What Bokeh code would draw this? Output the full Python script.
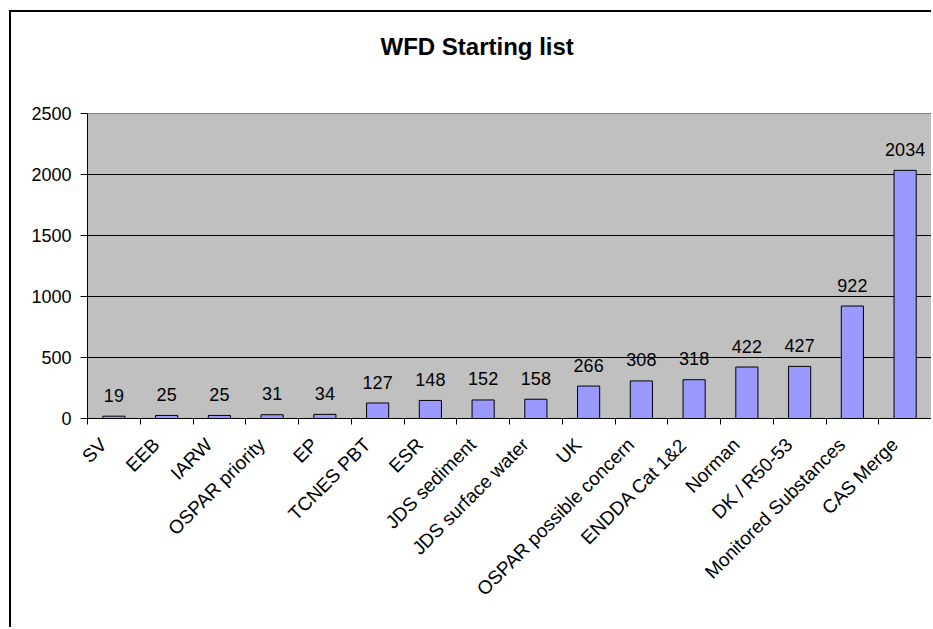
from math import pi

from bokeh.core.properties import value
from bokeh.embed import file_html
from bokeh.models import (ColumnDataSource, CustomJSTickFormatter, FixedTicker,
                          Range1d, Title)
from bokeh.plotting import figure
from bokeh.resources import INLINE

# Number of substances in each source list
categories = ["SV", "EEB", "IARW", "OSPAR priority", "EP", "TCNES PBT", "ESR",
              "JDS sediment", "JDS surface water", "UK", "OSPAR possible concern",
              "ENDDA Cat 1&2", "Norman", "DK / R50-53", "Monitored Substances",
              "CAS Merge"]
counts = [19, 25, 25, 31, 34, 127, 148, 152, 158, 266, 308, 318, 422, 427, 922, 2034]
y_ticks = [0, 500, 1000, 1500, 2000, 2500]

FONT = "Liberation Sans"
n = len(categories)
centers = [i + 0.5 for i in range(n)]
# rotated labels end slightly left of the bar centre
label_pos = [c - 0.2 for c in centers]

src = ColumnDataSource(dict(x=centers, top=counts,
                            label=[str(c) for c in counts]))

p = figure(width=922, height=617, output_backend="svg", toolbar_location=None,
           x_range=Range1d(0, n), y_range=Range1d(0, y_ticks[-1]),
           min_border_left=76, min_border_right=2, min_border_top=101,
           min_border_bottom=211,
           background_fill_color="#C0C0C0", border_fill_color="white",
           outline_line_color="#808080", outline_line_width=1)

# chart border, open to the right and bottom
p.margin = (10, 0, 0, 9)
p.styles = {"border-left": "2px solid black", "border-top": "2px solid black"}

# title sits well above the frame: extra bottom padding on its box
p.add_layout(Title(text="WFD Starting list", align="left", offset=293,
                   standoff=10, padding=dict(top=0, right=0, bottom=49, left=0),
                   text_font=FONT, text_font_size="24px",
                   text_font_style="bold", text_color="black"), "above")

# grid
p.xgrid.visible = False
p.ygrid.ticker = FixedTicker(ticks=y_ticks)
p.ygrid.grid_line_color = "black"
p.ygrid.grid_line_width = 1

# value axis
p.yaxis.ticker = FixedTicker(ticks=y_ticks)
p.yaxis.axis_line_color = "black"
p.yaxis.major_tick_line_color = "black"
p.yaxis.major_tick_out = 7
p.yaxis.major_tick_in = 0
p.yaxis.minor_tick_line_color = None
p.yaxis.major_label_standoff = 9
p.yaxis.major_label_text_font = FONT
p.yaxis.major_label_text_font_size = "18px"
p.yaxis.major_label_text_color = "black"

# category axis: labels near bar centres, tick marks between bars
p.xaxis.ticker = FixedTicker(ticks=label_pos, minor_ticks=list(range(n + 1)))
p.xaxis.formatter = CustomJSTickFormatter(args=dict(cats=categories),
                                          code="return cats[Math.floor(tick)];")
p.xaxis.axis_line_color = "black"
p.xaxis.major_tick_line_color = None
p.xaxis.major_tick_out = 0
p.xaxis.major_tick_in = 0
p.xaxis.minor_tick_line_color = "black"
p.xaxis.minor_tick_out = 6
p.xaxis.minor_tick_in = 0
p.xaxis.major_label_orientation = pi / 4
p.xaxis.major_label_standoff = 17
p.xaxis.major_label_text_font = FONT
p.xaxis.major_label_text_font_size = "19px"
p.xaxis.major_label_text_color = "black"

p.vbar(x="x", top="top", bottom=0, width=0.42, source=src,
       fill_color="#9999FF", line_color="black", line_width=1)

p.text(x="x", y="top", text="label", source=src, text_align="center",
       text_baseline="alphabetic", y_offset=-21, text_font=value(FONT),
       text_font_size="18px", text_color="black")

open("out.html", "w").write(file_html(p, INLINE))
